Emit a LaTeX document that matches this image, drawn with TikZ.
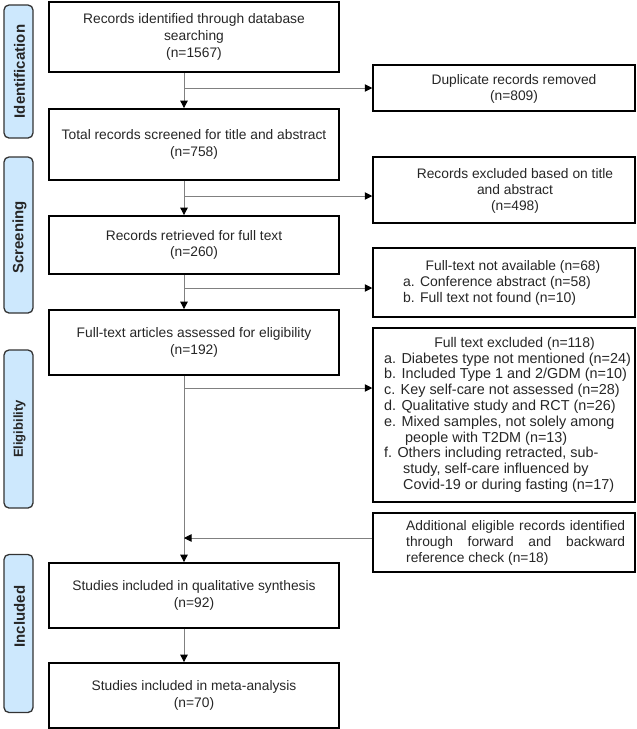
\documentclass[tikz,border=0pt]{standalone}
\usepackage{fontspec}
\setmainfont{Liberation Sans}
\usetikzlibrary{arrows.meta,calc}
\definecolor{sidefill}{RGB}{205,232,253}
\definecolor{linegrey}{RGB}{128,128,128}
\begin{document}
\begin{tikzpicture}[x=1pt,y=-1pt,
  lbox/.style={draw=black,line width=1.8pt,minimum width=290pt,inner sep=0pt,align=center,
    font=\fontsize{13.8}{16.6}\selectfont,text=black!85},
  rbox/.style={draw=black,line width=1.5pt,minimum width=262pt,inner sep=0pt},
  txt/.style={inner sep=0pt,font=\fontsize{13.8}{16}\selectfont,text=black!85},
  listtxt/.style={inner sep=0pt,align=left,font=\fontsize{14}{15.8}\selectfont,text=black!85},
  side/.style={draw=black!80,line width=1.3pt,fill=sidefill,rounded corners=5pt,minimum width=29pt,inner sep=0pt},
  sidetxt/.style={inner sep=0pt,rotate=90,font=\fontsize{15}{15}\selectfont\bfseries,text=black!85},
  flow/.style={draw=linegrey,line width=0.9pt,-{Triangle[length=7.5pt,width=7.5pt,color=black]}},
  plain/.style={draw=linegrey,line width=0.9pt}]
\useasboundingbox (0,0) rectangle (637,729);
\coordinate (mx) at (184,0);
% side labels
\node[side,minimum height=133pt] (sideI) at (18.5,71.5) {};
\node[sidetxt] (sideIt) at (19.5,71.5) {Identification};
\node[side,minimum height=156pt] (sideS) at (18.5,235) {};
\node[sidetxt] (sideSt) at (19.5,237.5) {Screening};
\node[side,minimum height=158pt] (sideE) at (18.5,429) {};
\node[sidetxt,font=\fontsize{13}{13}\selectfont\bfseries] (sideEt) at (19.5,429) {Eligibility};
\node[side,minimum height=158pt] (sideN) at (18.5,633.5) {};
\node[sidetxt] (sideNt) at (19.5,616.5) {Included};
% left column
\node[lbox,minimum height=70pt] (b1) at (194,37) {Records identified through database\\searching\\(n=1567)};
\node[lbox,minimum height=71pt] (b2) at (194,144.5) {Total records screened for title and abstract\\(n=758)};
\node[lbox,minimum height=58pt] (b3) at (194,245) {Records retrieved for full text\\(n=260)};
\node[lbox,minimum height=65pt] (b4) at (194,342.5) {Full-text articles assessed for eligibility\\(n=192)};
\node[lbox,minimum height=65pt] (b5) at (194,595.5) {Studies included in qualitative synthesis\\(n=92)};
\node[lbox,minimum height=65pt] (b6) at (194,695.5) {Studies included in meta-analysis\\(n=70)};
% right column
\node[rbox,minimum height=46pt] (dup) at (504,88) {};
\node[txt,align=center] (dupt) at (514,88.5) {Duplicate records removed\\(n=809)};
\node[rbox,minimum height=66pt] (excl) at (504,190) {};
\node[txt,align=center] (exclt) at (515,190.5) {Records excluded based on title\\and abstract\\(n=498)};
\node[rbox,minimum height=69pt] (na) at (504,282.5) {};
\node[txt] (nat) at (513,267) {Full-text not available (n=68)};
\node[listtxt,anchor=west] (nal) at (403,291) {a. Conference abstract (n=58)\\b. Full text not found (n=10)};
\node[rbox,minimum height=174pt] (fte) at (504,415) {};
\node[txt,font=\fontsize{14}{16}\selectfont] (ftet) at (514.5,344) {Full text excluded (n=118)};
\node[listtxt,anchor=west,font=\fontsize{14.4}{15.8}\selectfont] (ftel) at (384,422.5) {a. Diabetes type not mentioned (n=24)\\
b. Included Type 1 and 2/GDM (n=10)\\
c. Key self-care not assessed (n=28)\\
d. Qualitative study and RCT (n=26)\\
e. Mixed samples, not solely among\\
\hspace*{21pt}people with T2DM (n=13)\\
f. Others including retracted, sub-\\
\hspace*{19pt}study, self-care influenced by\\
\hspace*{19pt}Covid-19 or during fasting (n=17)};
\node[rbox,minimum height=59pt] (add) at (504,542.5) {};
\node[listtxt,anchor=west,font=\fontsize{13.8}{16}\selectfont] (addt) at (406,543) {\makebox[219pt][s]{Additional eligible records identified}\\
\makebox[219pt][s]{through forward and backward}\\
reference check (n=18)};
% connectors
\coordinate (j1) at (184,88);
\coordinate (j2) at (184,196);
\coordinate (j3) at (184,288);
\coordinate (j4) at (184,388);
\coordinate (j5) at (184,538);
\draw[flow] (b1.south -| mx) -- (b2.north -| mx);
\draw[flow] (j1) -- (j1 -| dup.west);
\draw[flow] (b2.south -| mx) -- (b3.north -| mx);
\draw[flow] (j2) -- (j2 -| excl.west);
\draw[flow] (b3.south -| mx) -- (b4.north -| mx);
\draw[flow] (j3) -- (j3 -| na.west);
\draw[flow] (b4.south -| mx) -- (b5.north -| mx);
\draw[flow] (j4) -- (j4 -| fte.west);
\draw[flow] (j5 -| add.west) -- (j5);
\draw[flow] (b5.south -| mx) -- (b6.north -| mx);
\end{tikzpicture}
\end{document}
